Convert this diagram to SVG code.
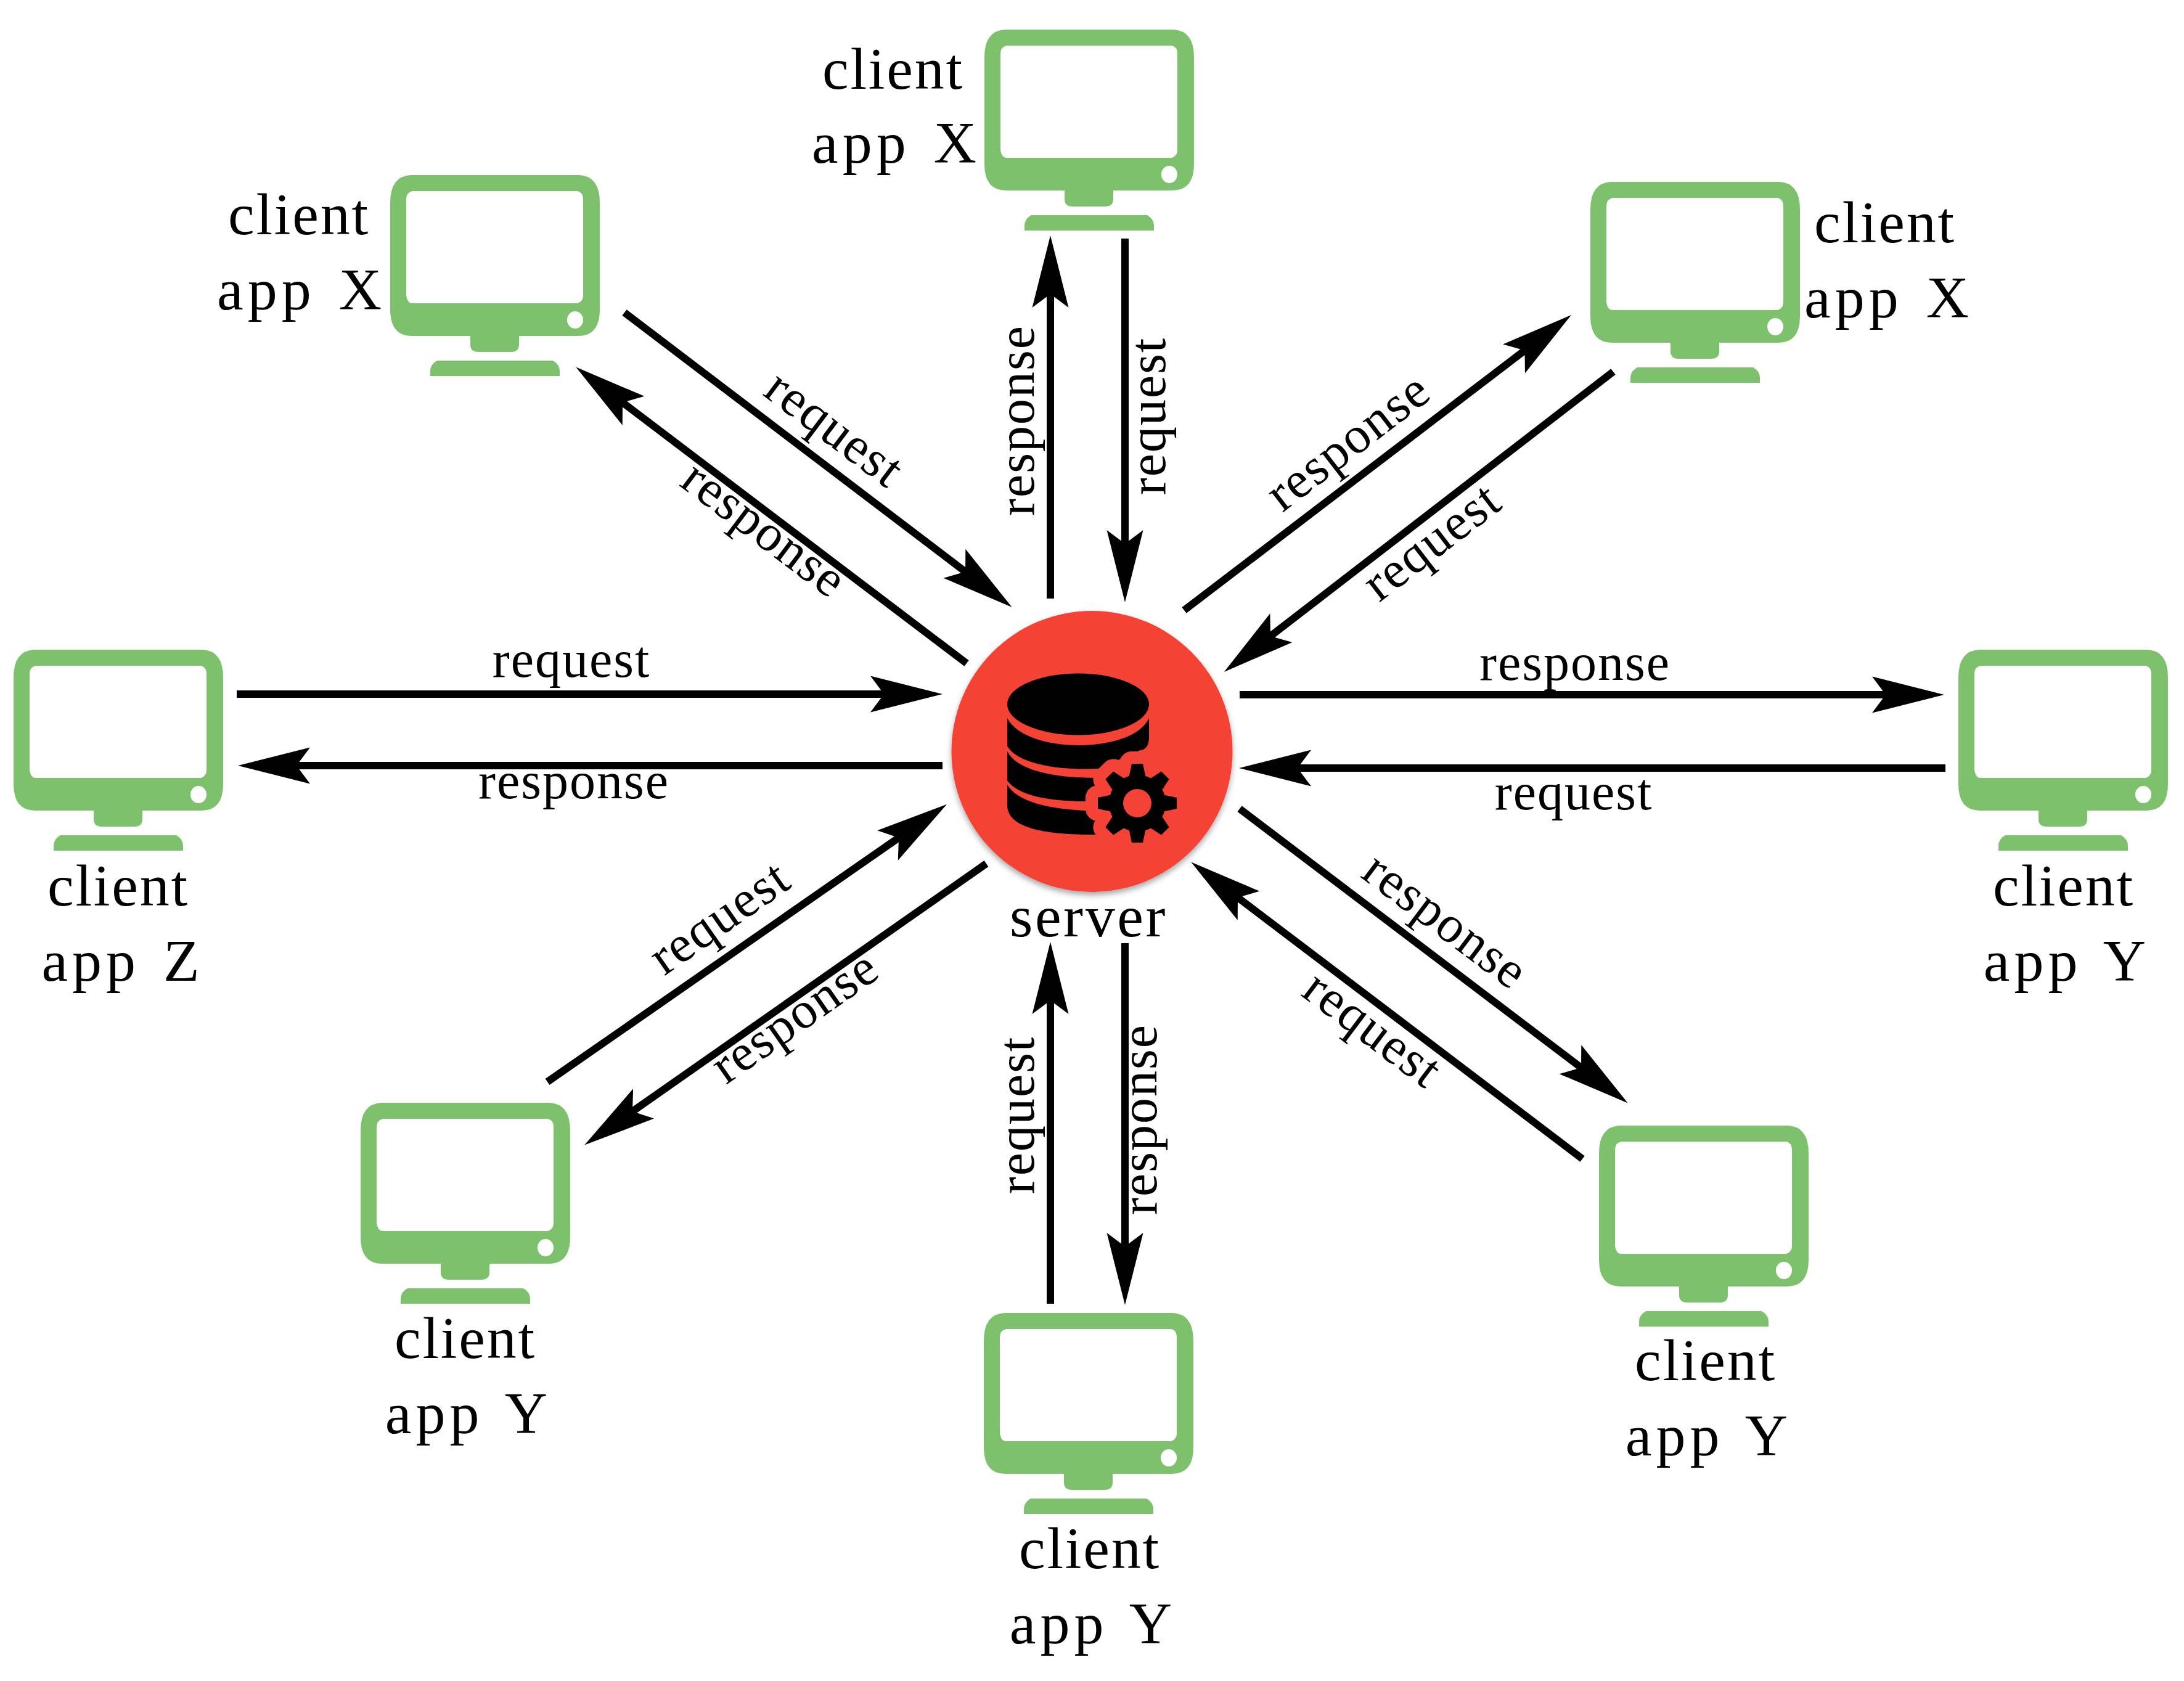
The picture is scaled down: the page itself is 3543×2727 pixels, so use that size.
<svg xmlns="http://www.w3.org/2000/svg" width="3543" height="2727" viewBox="0 0 3543 2727">
<style>
text{font-family:"Liberation Serif","Times New Roman",serif;fill:#000;text-anchor:middle}
.l{font-size:96px;letter-spacing:2.8px}
.a{font-size:96px;letter-spacing:7px;word-spacing:7px}
.s{font-size:84px;letter-spacing:2px}
.c line{stroke:#000;stroke-width:12;marker-end:url(#ah)}
.g{fill:#7dc16d}
</style>
<defs>
<marker id="ah" markerUnits="userSpaceOnUse" viewBox="-30 -35 130 70" markerWidth="130" markerHeight="70" refX="0" refY="0" orient="auto"><path d="M0,0 L-22,-29.5 L95,0 L-22,29.5 Z" fill="#000"/></marker>
<g id="monitor" class="g">
<path fill-rule="evenodd" d="M33,0H307Q340,2 340,45V218Q340,261 305,261H209V275Q209,287 196,287H143Q130,287 130,275V261H35Q0,261 0,218V45Q0,2 33,0ZM36,26Q26,28 26,40V195Q28,208 36,208H304Q313,205 313,195V40Q313,28 304,26ZM313,235A13,14 0 1 0 287,235A13,14 0 1 0 313,235Z"/>
<path d="M65,326V318Q65,307 76,301H264Q275,307 275,318V326Z"/>
</g>
<g id="gear">
<circle r="46"/>
<g id="tooth"><path d="M-14,-40L-9,-64H9L14,-40Z"/></g>
<use href="#tooth" transform="rotate(45)"/><use href="#tooth" transform="rotate(90)"/><use href="#tooth" transform="rotate(135)"/><use href="#tooth" transform="rotate(180)"/><use href="#tooth" transform="rotate(225)"/><use href="#tooth" transform="rotate(270)"/><use href="#tooth" transform="rotate(315)"/>
</g>
<filter id="sh" x="-10%" y="-10%" width="120%" height="120%"><feDropShadow dx="0" dy="5" stdDeviation="5" flood-color="#000" flood-opacity=".35"/></filter>
</defs>
<rect width="3543" height="2727" fill="#fff"/>
<g id="connectors" class="c">
<line x1="1704" y1="971" x2="1704" y2="477"/>
<line x1="1825" y1="387" x2="1825" y2="882"/>
<line x1="1921" y1="990" x2="2473.5" y2="568.6"/>
<line x1="2617" y1="603" x2="2061" y2="1032"/>
<line x1="2011" y1="1127" x2="3059" y2="1127"/>
<line x1="3156" y1="1246" x2="2105" y2="1246"/>
<line x1="2011" y1="1312" x2="2565" y2="1732"/>
<line x1="2567" y1="1880" x2="2008" y2="1456"/>
<line x1="1825" y1="1530" x2="1825" y2="2022"/>
<line x1="1704" y1="2115" x2="1704" y2="1623"/>
<line x1="1600" y1="1401" x2="1026" y2="1803"/>
<line x1="888" y1="1755" x2="1458" y2="1359"/>
<line x1="1529" y1="1242" x2="481" y2="1242"/>
<line x1="384" y1="1126" x2="1434" y2="1126"/>
<line x1="1568" y1="1076" x2="1010" y2="653"/>
<line x1="1013" y1="507" x2="1566" y2="927.5"/>
</g>
<g id="connector-labels" class="s">
<text class="s" transform="translate(1677 682) rotate(-90)">response</text>
<text class="s" transform="translate(1890 675) rotate(-90)">request</text>
<text class="s" transform="translate(2194 726) rotate(-37.5)" y="15">response</text>
<text class="s" transform="translate(2330 888) rotate(-37.5)" y="15">request</text>
<text class="s" x="2555" y="1103">response</text>
<text class="s" x="2553" y="1313">request</text>
<text class="s" transform="translate(2338 1503) rotate(37)" y="15">response</text>
<text class="s" transform="translate(2220 1679) rotate(37)" y="15">request</text>
<text class="s" transform="translate(1876 1816) rotate(-90)">response</text>
<text class="s" transform="translate(1677 1809) rotate(-90)">request</text>
<text class="s" transform="translate(1296 1659) rotate(-35)" y="15">response</text>
<text class="s" transform="translate(1174 1498) rotate(-35)" y="15">request</text>
<text class="s" x="931" y="1295">response</text>
<text class="s" x="927" y="1098">request</text>
<text class="s" transform="translate(1233 868) rotate(37)" y="15">response</text>
<text class="s" transform="translate(1347 705) rotate(37)" y="15">request</text>
</g>
<g id="server">
<circle cx="1771.5" cy="1219" r="228" fill="#f44336" filter="url(#sh)"/>
<ellipse cx="1749" cy="1142.5" rx="115" ry="50" fill="#000"/>
<path fill="#000" d="M1634,1165C1650,1195 1700,1209 1749,1209C1800,1209 1850,1195 1864,1165V1195Q1864,1216 1850,1217L1782,1247C1720,1250 1650,1240 1634,1210Z"/>
<path fill="#000" d="M1634,1219C1650,1250 1710,1263 1790,1262V1300H1761C1700,1300 1650,1290 1634,1266Z"/>
<path fill="#000" d="M1634,1273C1650,1300 1700,1315 1790,1316V1354H1775C1700,1354 1634,1345 1634,1306Z"/>
<use href="#gear" x="1845" y="1303" fill="#f44336" stroke="#f44336" stroke-width="40" stroke-linejoin="round"/>
<use href="#gear" x="1845" y="1303" fill="#000"/>
<circle cx="1845" cy="1303" r="23" fill="#f44336"/>
<text class="l" x="1766" y="1519" style="letter-spacing:3.6px">server</text>
</g>
<g id="client-top-left"><use href="#monitor" x="633" y="284"/><text class="l" x="485" y="380">client</text><text class="a" x="489" y="502">app X</text></g>
<g id="client-top"><use href="#monitor" x="1597" y="48"/><text class="l" x="1449" y="144">client</text><text class="a" x="1454" y="264">app X</text></g>
<g id="client-top-right"><use href="#monitor" x="2580" y="295"/><text class="l" x="3058" y="393">client</text><text class="a" x="3064" y="515">app X</text></g>
<g id="client-left"><use href="#monitor" x="22" y="1054"/><text class="l" x="192" y="1469">client</text><text class="a" x="199" y="1591">app Z</text></g>
<g id="client-right"><use href="#monitor" x="3177" y="1054"/><text class="l" x="3348" y="1469">client</text><text class="a" x="3353" y="1591">app Y</text></g>
<g id="client-bottom-left"><use href="#monitor" x="585" y="1789"/><text class="l" x="755" y="2203">client</text><text class="a" x="760" y="2325">app Y</text></g>
<g id="client-bottom"><use href="#monitor" x="1596" y="2130"/><text class="l" x="1768" y="2544">client</text><text class="a" x="1773" y="2666">app Y</text></g>
<g id="client-bottom-right"><use href="#monitor" x="2594" y="1826"/><text class="l" x="2767" y="2239">client</text><text class="a" x="2772" y="2361">app Y</text></g>
</svg>
